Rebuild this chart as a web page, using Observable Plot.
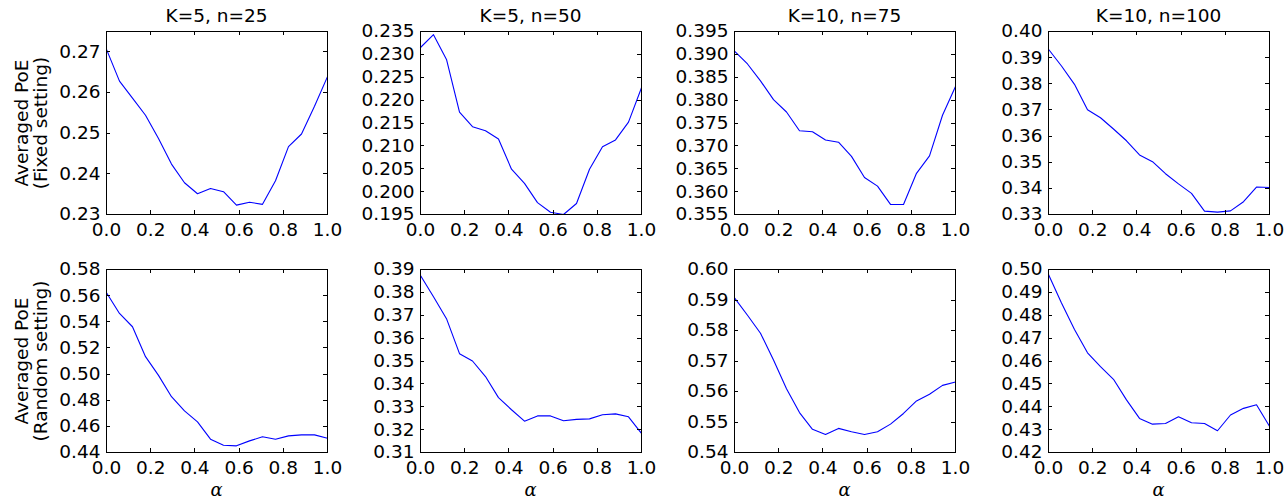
<!DOCTYPE html>
<html><head><meta charset="utf-8">
<script src="https://cdn.jsdelivr.net/npm/d3@7"></script>
<script src="https://cdn.jsdelivr.net/npm/@observablehq/plot@0.6"></script>
<style>
body{margin:0;background:#fff;}
#root{position:relative;width:1288px;height:500px;overflow:hidden;font-family:"DejaVu Sans",sans-serif;color:#000;background:#fff;}
.panel{position:absolute;}
.panel svg{overflow:visible;}
.title{position:absolute;font-size:18.5px;line-height:20px;white-space:nowrap;transform:translateX(-50%);}
.ylab{position:absolute;font-size:18.5px;line-height:19px;white-space:nowrap;text-align:center;transform:translate(-50%,-50%) rotate(-90deg);}
.xlab{position:absolute;font-family:"DejaVu Serif",serif;font-style:italic;font-size:18px;line-height:20px;transform:translateX(-50%);}
</style></head>
<body><div id="root"></div>
<script>
// x positions (alpha), 18 points
const alpha = [0, 0.0588, 0.1176, 0.1765, 0.2353, 0.2941, 0.3529, 0.4118, 0.4706, 0.5294, 0.5882, 0.6471, 0.7059, 0.7647, 0.8235, 0.8824, 0.9412, 1.0];

// Fixed setting
const fixedK5n25  = [0.2706, 0.2628, 0.2586, 0.2544, 0.2487, 0.2424, 0.2378, 0.2351, 0.2364, 0.2356, 0.2323, 0.2330, 0.2325, 0.2383, 0.2467, 0.2498, 0.2566, 0.2639];
const fixedK5n50  = [0.2315, 0.2343, 0.2289, 0.2174, 0.2142, 0.2133, 0.2115, 0.2049, 0.2018, 0.1976, 0.1955, 0.1950, 0.1974, 0.2049, 0.2098, 0.2113, 0.2152, 0.2227];
const fixedK10n75 = [0.3907, 0.3879, 0.3842, 0.3801, 0.3774, 0.3733, 0.3731, 0.3713, 0.3708, 0.3677, 0.3631, 0.3612, 0.3572, 0.3572, 0.3640, 0.3678, 0.3767, 0.3830];
const fixedK10n100= [0.3932, 0.3868, 0.3798, 0.3701, 0.3670, 0.3627, 0.3582, 0.3528, 0.3502, 0.3456, 0.3417, 0.3381, 0.3313, 0.3309, 0.3314, 0.3349, 0.3405, 0.3403];

// Random setting
const randK5n25  = [0.5622, 0.5464, 0.5362, 0.5133, 0.4990, 0.4827, 0.4718, 0.4634, 0.4502, 0.4456, 0.4451, 0.4489, 0.4520, 0.4502, 0.4527, 0.4535, 0.4535, 0.4509];
const randK5n50  = [0.3874, 0.3781, 0.3685, 0.3532, 0.3500, 0.3432, 0.3340, 0.3287, 0.3237, 0.3260, 0.3260, 0.3239, 0.3245, 0.3247, 0.3265, 0.3269, 0.3256, 0.3184];
const randK10n75 = [0.5907, 0.5850, 0.5791, 0.5703, 0.5609, 0.5531, 0.5476, 0.5459, 0.5479, 0.5468, 0.5459, 0.5468, 0.5493, 0.5528, 0.5569, 0.5591, 0.5620, 0.5631];
const randK10n100= [0.4978, 0.4854, 0.4738, 0.4636, 0.4575, 0.4520, 0.4430, 0.4349, 0.4324, 0.4327, 0.4356, 0.4330, 0.4327, 0.4295, 0.4364, 0.4393, 0.4409, 0.4315];

const titles = ["K=5, n=25", "K=5, n=50", "K=10, n=75", "K=10, n=100"];
const rowLabels = [["Averaged PoE", "(Fixed setting)"], ["Averaged PoE", "(Random setting)"]];
const xLabel = "α";
const xTicks = [0, 0.2, 0.4, 0.6, 0.8, 1.0];

const yTicksFixed = [
  [0.23, 0.24, 0.25, 0.26, 0.27],
  [0.195, 0.200, 0.205, 0.210, 0.215, 0.220, 0.225, 0.230, 0.235],
  [0.355, 0.360, 0.365, 0.370, 0.375, 0.380, 0.385, 0.390, 0.395],
  [0.33, 0.34, 0.35, 0.36, 0.37, 0.38, 0.39, 0.40]
];
const yTicksRandom = [
  [0.44, 0.46, 0.48, 0.50, 0.52, 0.54, 0.56, 0.58],
  [0.31, 0.32, 0.33, 0.34, 0.35, 0.36, 0.37, 0.38, 0.39],
  [0.54, 0.55, 0.56, 0.57, 0.58, 0.59, 0.60],
  [0.42, 0.43, 0.44, 0.45, 0.46, 0.47, 0.48, 0.49, 0.50]
];
const yDomainsFixed  = [[0.23, 0.275], [0.195, 0.235], [0.355, 0.395], [0.33, 0.40]];
const yDomainsRandom = [[0.44, 0.58], [0.31, 0.39], [0.54, 0.60], [0.42, 0.50]];
const yDecimalsFixed  = [2, 3, 3, 2];
const yDecimalsRandom = [2, 2, 2, 2];

const rows = [
  {series: [fixedK5n25, fixedK5n50, fixedK10n75, fixedK10n100], ticks: yTicksFixed, domains: yDomainsFixed, dec: yDecimalsFixed},
  {series: [randK5n25, randK5n50, randK10n75, randK10n100], ticks: yTicksRandom, domains: yDomainsRandom, dec: yDecimalsRandom}
];

// layout
const frameLefts = [106, 420, 734, 1048];
const rowTops = [31, 269];
const FW = 221, FH = 183;
const ML = 70, MR = 15, MT = 10, MB = 32;
const TICK = 4;

const root = document.getElementById("root");

rows.forEach((row, r) => {
  row.series.forEach((vals, c) => {
    const data = alpha.map((a, i) => ({a, v: vals[i]}));
    const yt = row.ticks[c];
    const plot = Plot.plot({
      width: ML + FW + MR,
      height: MT + FH + MB,
      marginLeft: ML, marginRight: MR, marginTop: MT, marginBottom: MB,
      style: {fontFamily: "DejaVu Sans", fontSize: "18.5px", color: "black", background: "transparent", overflow: "visible"},
      x: {domain: [0, 1], axis: null},
      y: {domain: row.domains[c], axis: null},
      marks: [
        Plot.line(data, {x: "a", y: "v", stroke: "#0000ff", strokeWidth: 1.1}),
        Plot.ruleX(xTicks, {x: d => d, insetTop: FH - TICK, stroke: "black", shapeRendering: "crispEdges"}),
        Plot.ruleX(xTicks, {x: d => d, insetBottom: FH - TICK, stroke: "black", shapeRendering: "crispEdges"}),
        Plot.ruleY(yt, {y: d => d, insetRight: FW - TICK, stroke: "black", shapeRendering: "crispEdges"}),
        Plot.ruleY(yt, {y: d => d, insetLeft: FW - TICK, stroke: "black", shapeRendering: "crispEdges"}),
        Plot.frame({stroke: "black", strokeWidth: 1, shapeRendering: "crispEdges"}),
        Plot.axisX(xTicks, {tickSize: 0, tickPadding: 8, tickFormat: d3.format(".1f"), label: null, fill: "black", fontSize: 18.5}),
        Plot.axisY(yt, {tickSize: 0, tickPadding: 6, tickFormat: d3.format("." + row.dec[c] + "f"), label: null, fill: "black", fontSize: 18.5})
      ]
    });
    const div = document.createElement("div");
    div.className = "panel";
    div.style.left = (frameLefts[c] - ML) + "px";
    div.style.top = (rowTops[r] - MT) + "px";
    div.appendChild(plot);
    root.appendChild(div);

    if (r === 0) {
      const t = document.createElement("div");
      t.className = "title";
      t.textContent = titles[c];
      t.style.left = (frameLefts[c] + FW / 2) + "px";
      t.style.top = "6px";
      root.appendChild(t);
    } else {
      const xl = document.createElement("div");
      xl.className = "xlab";
      xl.textContent = xLabel;
      xl.style.left = (frameLefts[c] + FW / 2) + "px";
      xl.style.top = "480px";
      root.appendChild(xl);
    }
  });
  const yl = document.createElement("div");
  yl.className = "ylab";
  yl.innerHTML = rowLabels[r].join("<br>");
  yl.style.left = "31px";
  yl.style.top = (rowTops[r] + FH / 2) + "px";
  root.appendChild(yl);
});
</script>
</body></html>
